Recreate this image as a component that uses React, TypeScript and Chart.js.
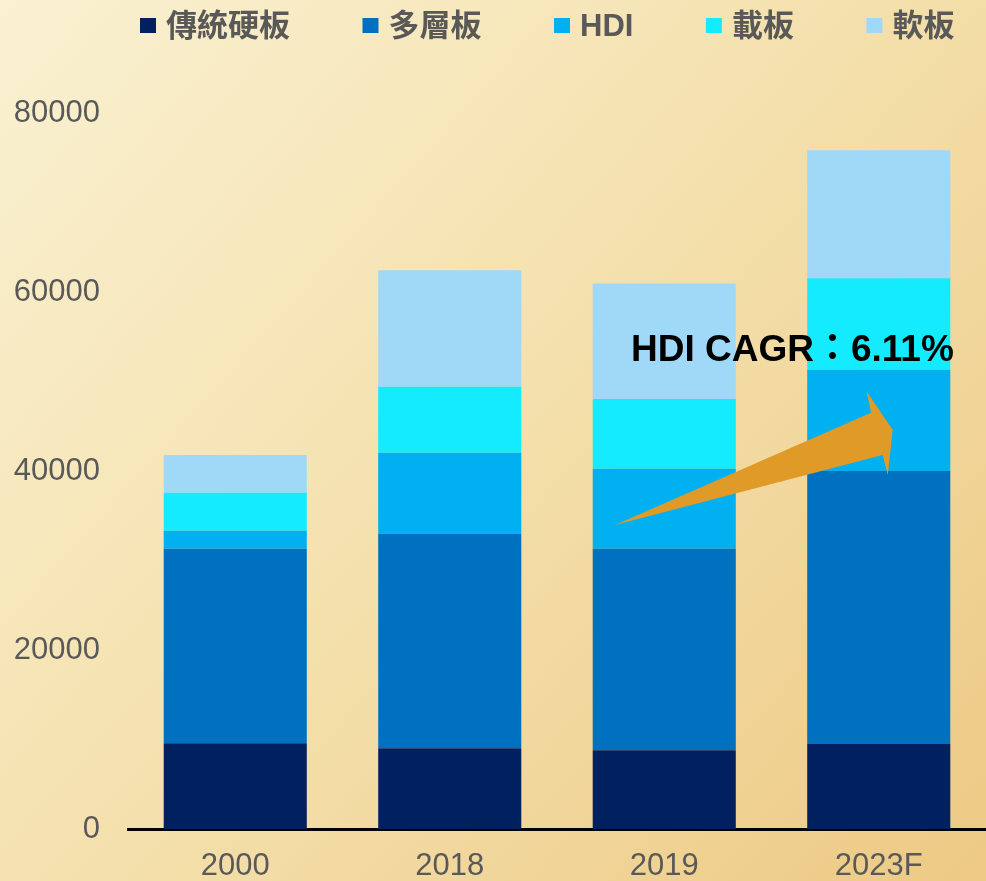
import React, { useEffect, useRef } from "react";
import { Chart, registerables } from "chart.js";

Chart.register(...registerables);

const CATEGORIES = ["2000", "2018", "2019", "2023F"];
const SERIES_NAMES = ["傳統硬板", "多層板", "HDI", "載板", "軟板"];
const TRADITIONAL = [9570, 9010, 8790, 9540];
const MULTILAYER = [21740, 23970, 22520, 30470];
const HDI = [2010, 9050, 8940, 11300];
const SUBSTRATE = [4250, 7370, 7790, 10240];
const FLEX = [4210, 13040, 12920, 14300];
const COLORS = ["#002060", "#0070C0", "#00B0F0", "#15EBFF", "#A0D8F8"];
const Y_MIN = 0;
const Y_MAX = 80000;
const Y_STEP = 20000;

const ANNOT_TEXT = "HDI CAGR：6.11%";
const ANNOT_ANCHOR = [1.845, 52280];
const ARROW_POINTS = [
  [1.77, 33970],
  [2.964, 46510],
  [2.944, 48850],
  [3.065, 44610],
  [3.042, 39530],
  [3.018, 41790],
];

const FONT_FAMILY = '"Liberation Sans", "Noto Sans CJK TC", sans-serif';

const backgroundPlugin = {
  id: "bgGradient",
  beforeDraw(chart: any) {
    const { ctx, width, height } = chart;
    ctx.save();
    const g = ctx.createLinearGradient(0, 0, width, height);
    g.addColorStop(0, "#FAF1D2");
    g.addColorStop(0.5, "#F4E0AC");
    g.addColorStop(1, "#EDC984");
    ctx.fillStyle = g;
    ctx.fillRect(0, 0, width, height);
    ctx.restore();
  },
};

const legendPlugin = {
  id: "customLegend",
  afterDraw(chart: any) {
    const { ctx } = chart;
    ctx.save();
    ctx.font = `bold 31px ${FONT_FAMILY}`;
    ctx.textBaseline = "middle";
    ctx.textAlign = "left";
    let x = 140;
    chart.data.datasets.forEach((ds: any) => {
      ctx.fillStyle = ds.backgroundColor;
      ctx.fillRect(x, 18, 16, 15);
      ctx.fillStyle = "#595959";
      const tx = x + 26;
      ctx.fillText(ds.label, tx, 27);
      const w = ctx.measureText(ds.label).width;
      x = tx + w + 72.5;
    });
    ctx.restore();
  },
};

const annotationPlugin = {
  id: "cagrAnnotation",
  afterDatasetsDraw(chart: any) {
    const { ctx } = chart;
    const xs = chart.scales.x;
    const ys = chart.scales.y;
    ctx.save();
    ctx.fillStyle = "#E09A28";
    ctx.beginPath();
    ARROW_POINTS.forEach(([i, v], k) => {
      const px = xs.getPixelForValue(i);
      const py = ys.getPixelForValue(v);
      if (k === 0) ctx.moveTo(px, py);
      else ctx.lineTo(px, py);
    });
    ctx.closePath();
    ctx.fill();
    ctx.fillStyle = "#000000";
    ctx.font = `bold 37px ${FONT_FAMILY}`;
    ctx.textAlign = "left";
    ctx.textBaseline = "alphabetic";
    ctx.fillText(
      ANNOT_TEXT,
      xs.getPixelForValue(ANNOT_ANCHOR[0]),
      ys.getPixelForValue(ANNOT_ANCHOR[1])
    );
    ctx.restore();
  },
};

export default function App() {
  const canvasRef = useRef<HTMLCanvasElement | null>(null);

  useEffect(() => {
    if (!canvasRef.current) return;
    const seriesValues = [TRADITIONAL, MULTILAYER, HDI, SUBSTRATE, FLEX];
    const chart = new Chart(canvasRef.current, {
      type: "bar",
      data: {
        labels: CATEGORIES,
        datasets: seriesValues.map((vals, i) => ({
          label: SERIES_NAMES[i],
          data: vals,
          backgroundColor: COLORS[i],
          borderWidth: 0,
          barPercentage: 0.667,
          categoryPercentage: 1,
        })),
      },
      options: {
        responsive: false,
        animation: false,
        layout: { padding: { top: 113, left: 0, right: 0, bottom: 0 } },
        plugins: {
          legend: { display: false },
          tooltip: { enabled: false },
        },
        scales: {
          x: {
            stacked: true,
            grid: { display: false, drawTicks: false },
            border: { display: true, color: "#000000", width: 3 },
            ticks: {
              color: "#595959",
              font: { family: FONT_FAMILY, size: 31 },
              padding: 19,
              maxRotation: 0,
            },
            afterFit(scale: any) {
              scale.height = 52;
            },
          },
          y: {
            stacked: true,
            min: Y_MIN,
            max: Y_MAX,
            grid: { display: false, drawTicks: false },
            border: { display: false },
            ticks: {
              stepSize: Y_STEP,
              color: "#595959",
              font: { family: FONT_FAMILY, size: 31 },
              padding: 28,
              callback: (v: any) => String(v),
            },
            afterFit(scale: any) {
              scale.width = 128;
            },
          },
        },
      },
      plugins: [backgroundPlugin, annotationPlugin, legendPlugin],
    });
    return () => chart.destroy();
  }, []);

  return (
    <div style={{ position: "absolute", left: 0, top: 0, width: 986, height: 881 }}>
      <canvas ref={canvasRef} width={986} height={881} style={{ display: "block" }} />
    </div>
  );
}
